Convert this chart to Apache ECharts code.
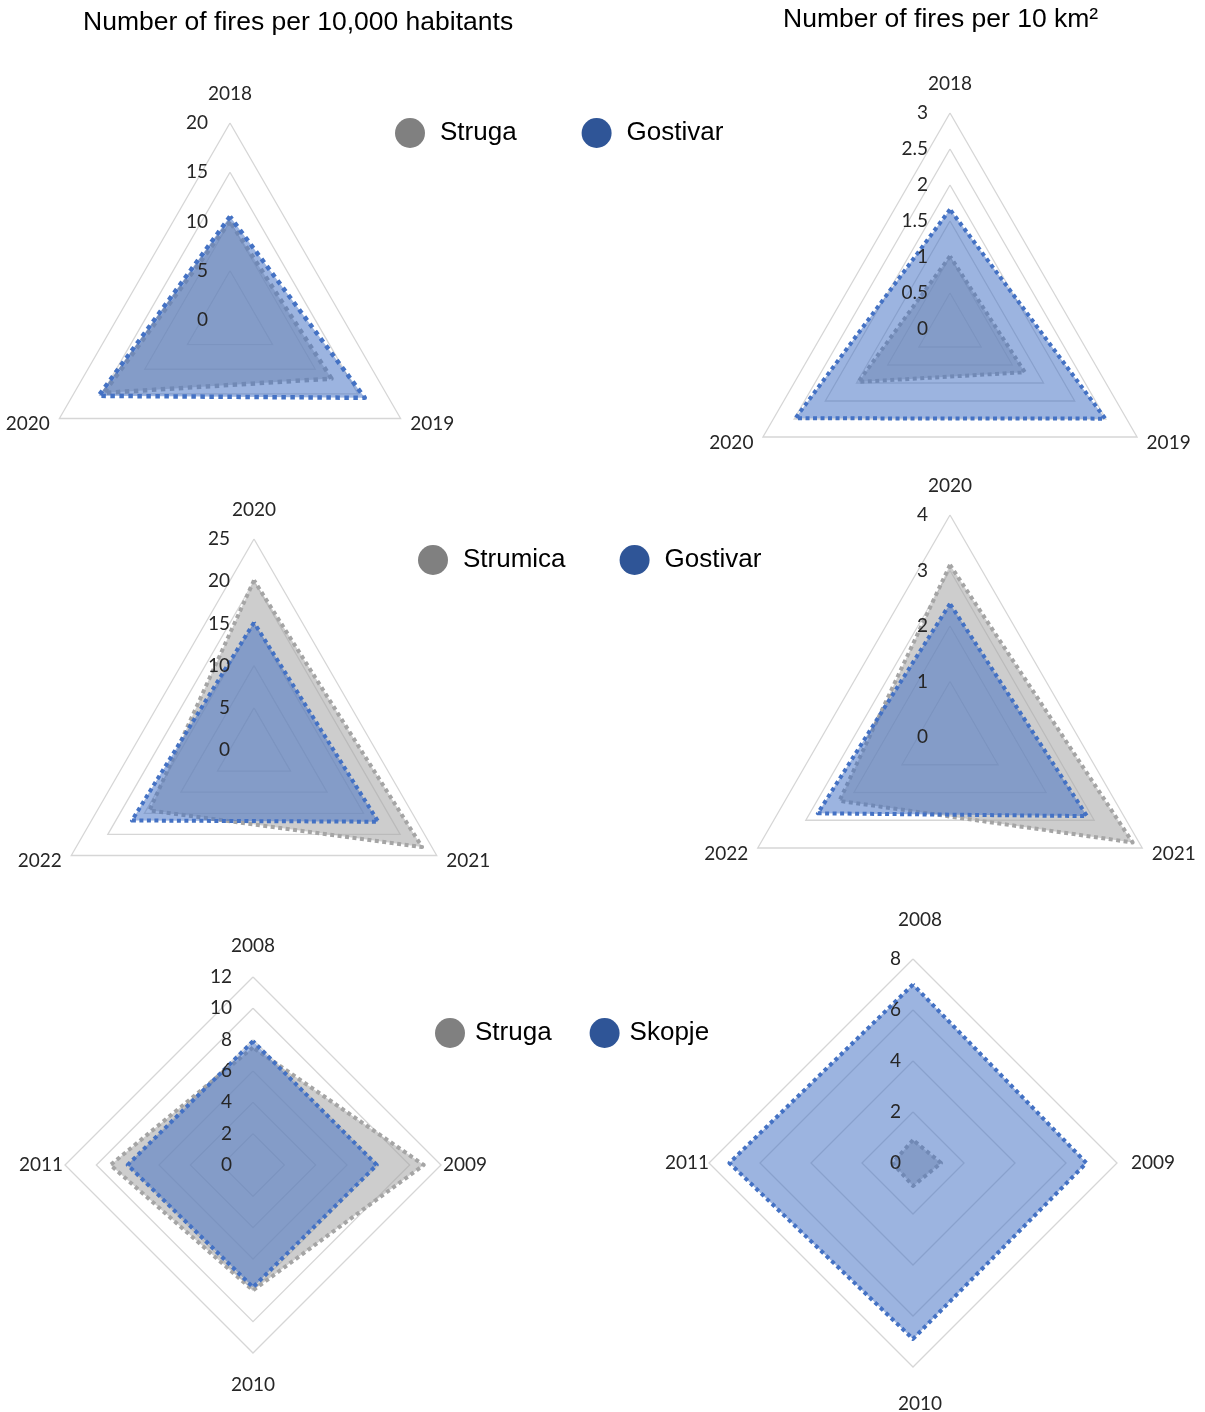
<!DOCTYPE html>
<html>
<head>
<meta charset="utf-8">
<script src="https://cdn.jsdelivr.net/npm/echarts@6/dist/echarts.min.js"></script>
<style>
  html, body { margin: 0; padding: 0; background: #ffffff; }
  #main { width: 1205px; height: 1412px; }
</style>
</head>
<body>
<div id="main"></div>
<script>
// ---- data ----
// Top row: 2018-2020, Struga vs Gostivar
const yearsA = ['2018', '2019', '2020'];
const strugaPerHab = [10.0, 11.9, 14.8];      // fires per 10,000 habitants
const gostivarPerHab = [10.5, 15.8, 15.4];
const strugaPerArea = [1.01, 1.2, 1.47];      // fires per 10 km²
const gostivarPerArea = [1.66, 2.49, 2.48];

// Middle row: 2020-2022, Strumica vs Gostivar
const yearsB = ['2020', '2021', '2022'];
const strumicaPerHab = [20.1, 23.0, 14.3];
const gostivarPerHabB = [15.1, 17.0, 16.7];
const strumicaPerArea = [3.1, 3.8, 2.3];
const gostivarPerAreaB = [2.4, 2.85, 2.75];

// Bottom row: 2008-2011, Struga vs Skopje
const yearsC = ['2008', '2009', '2010', '2011'];
const strugaPerHabC = [7.5, 10.9, 8.0, 9.1];
const skopjePerHab = [7.9, 7.9, 7.8, 8.0];
const strugaPerAreaC = [0.9, 1.1, 0.9, 0.8];
const skopjePerArea = [7.0, 6.8, 6.9, 7.2];

// scale of each panel (max and tick step)
const scaleMax = [20, 3, 25, 4, 12, 8];
const scaleStep = [5, 0.5, 5, 1, 2, 2];

const titles = ['Number of fires per 10,000 habitants', 'Number of fires per 10 km²'];

// ---- panel setup ----
const panels = [
  { years: yearsA, a: ['Struga', strugaPerHab], b: ['Gostivar', gostivarPerHab] },
  { years: yearsA, a: ['Struga', strugaPerArea], b: ['Gostivar', gostivarPerArea] },
  { years: yearsB, a: ['Strumica', strumicaPerHab], b: ['Gostivar', gostivarPerHabB] },
  { years: yearsB, a: ['Strumica', strumicaPerArea], b: ['Gostivar', gostivarPerAreaB] },
  { years: yearsC, a: ['Struga', strugaPerHabC], b: ['Skopje', skopjePerHab] },
  { years: yearsC, a: ['Struga', strugaPerAreaC], b: ['Skopje', skopjePerArea] }
];

// namePad pushes the top/bottom year labels away from the vertex without moving side labels much
const geometry = [
  { center: [230, 320], r: 197, labelMargin: 22, nameGap: 11, namePad: [0, 0, 9, 0], width: 4.5, dash: [4.5, 4.5] },
  { center: [950, 329], r: 216, labelMargin: 22, nameGap: 11, namePad: [0, 0, 9, 0], width: 4, dash: [4, 3.5] },
  { center: [254, 750], r: 211, labelMargin: 24, nameGap: 11, namePad: [0, 0, 9, 0], width: 4, dash: [4, 3.5] },
  { center: [950, 737], r: 222, labelMargin: 22, nameGap: 11, namePad: [0, 0, 9, 0], width: 4, dash: [4, 3.5] },
  { center: [253, 1165], r: 188, labelMargin: 21, nameGap: 2, namePad: [20, 0, 20, 0], width: 4, dash: [4, 3.5] },
  { center: [913, 1163], r: 204, labelMargin: 12, nameGap: 0, namePad: [27, 0, 30, 14], width: 4, dash: [4, 3.5] }
];

// ECharts lays indicators out counter-clockwise; these charts run clockwise from the top
const clockwise = arr => [arr[0]].concat(arr.slice(1).reverse());

const GREY = '#a5a5a5';
const BLUE = '#4472c4';
const INK = '#262626';
const labelFont = 'Lato, "Open Sans", sans-serif';
const textFont = '"Liberation Sans", Arial, sans-serif';

const radar = [], grid = [], xAxis = [], yAxis = [], series = [];

panels.forEach((p, i) => {
  const g = geometry[i];
  radar.push({
    center: g.center,
    radius: g.r,
    startAngle: 90,
    shape: 'polygon',
    splitNumber: Math.round(scaleMax[i] / scaleStep[i]),
    indicator: clockwise(p.years).map(y => ({ name: y, min: 0, max: scaleMax[i] })),
    nameGap: g.nameGap,
    axisName: { color: INK, fontFamily: labelFont, fontSize: 19, padding: g.namePad },
    axisLine: { show: false },
    axisTick: { show: false },
    axisLabel: { show: false },
    splitArea: { show: false },
    splitLine: { lineStyle: { color: '#d6d6d6', width: 1.3 } },
    silent: true
  });

  // value scale drawn up the first (top) spoke
  grid.push({ left: g.center[0], top: g.center[1] - g.r, width: 1, height: g.r });
  xAxis.push({ gridIndex: i, type: 'value', show: false });
  yAxis.push({
    gridIndex: i, type: 'value', min: 0, max: scaleMax[i], interval: scaleStep[i],
    axisLine: { show: false }, axisTick: { show: false }, splitLine: { show: false },
    axisLabel: { margin: g.labelMargin, color: INK, fontFamily: labelFont, fontSize: 19 },
    z: 6
  });

  [[p.a, GREY, 0.56], [p.b, BLUE, 0.53]].forEach(([[name, vals], color, alpha]) => {
    series.push({
      type: 'radar',
      name: name,
      radarIndex: i,
      symbol: 'none',
      silent: true,
      itemStyle: { color: color },
      lineStyle: { color: color, width: g.width, type: g.dash, cap: 'butt' },
      areaStyle: { color: color, opacity: alpha },
      data: [{ name: name, value: clockwise(vals) }]
    });
  });
});

const legendText = { fontFamily: textFont, fontSize: 26, color: '#000000' };
const legendBase = {
  orient: 'horizontal', icon: 'circle', itemWidth: 30, itemHeight: 30,
  selectedMode: false, padding: 0,
  itemStyle: { borderWidth: 0 }
};
const titleText = { fontFamily: textFont, fontSize: 26.5, fontWeight: 'normal', color: '#000000' };

const option = {
  backgroundColor: '#ffffff',
  animation: false,
  title: [
    { text: titles[0], left: 83, top: 9, padding: 0, textStyle: titleText },
    { text: titles[1], left: 783, top: 6, padding: 0, textStyle: titleText }
  ],
  legend: [
    Object.assign({}, legendBase, {
      left: 395, top: 118, itemGap: 65,
      textStyle: Object.assign({ padding: [0, 0, 0, 10] }, legendText),
      data: [{ name: 'Struga', itemStyle: { color: '#808080' } },
             { name: 'Gostivar', itemStyle: { color: '#2f5597' } }]
    }),
    Object.assign({}, legendBase, {
      left: 418, top: 545, itemGap: 54,
      textStyle: Object.assign({ padding: [0, 0, 0, 10] }, legendText),
      data: [{ name: 'Strumica', itemStyle: { color: '#808080' } },
             { name: 'Gostivar', itemStyle: { color: '#2f5597' } }]
    }),
    Object.assign({}, legendBase, {
      left: 435, top: 1018, itemGap: 38,
      textStyle: Object.assign({ padding: [0, 0, 0, 5] }, legendText),
      data: [{ name: 'Struga', itemStyle: { color: '#808080' } },
             { name: 'Skopje', itemStyle: { color: '#2f5597' } }]
    })
  ],
  radar: radar,
  grid: grid,
  xAxis: xAxis,
  yAxis: yAxis,
  series: series
};

const chart = echarts.init(document.getElementById('main'), null, { renderer: 'canvas' });
chart.setOption(option);
</script>
</body>
</html>
